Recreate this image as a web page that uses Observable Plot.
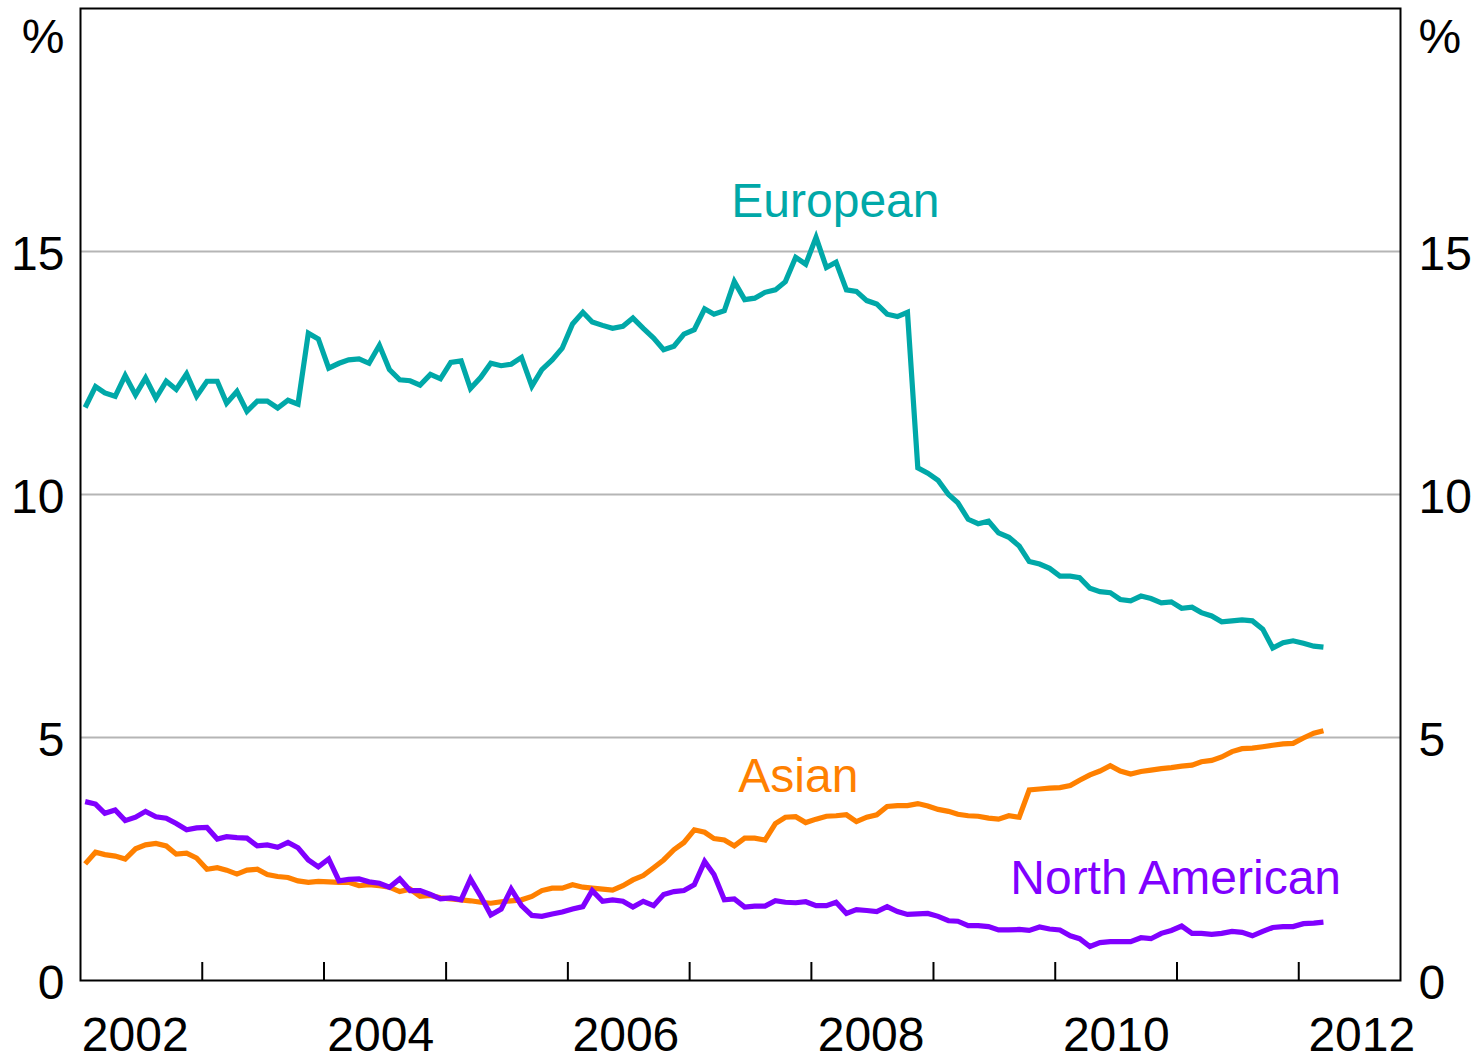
<!DOCTYPE html>
<html>
<head>
<meta charset="utf-8">
<script src="https://cdn.jsdelivr.net/npm/d3@7"></script>
<script src="https://cdn.jsdelivr.net/npm/@observablehq/plot@0.6"></script>
<style>
  html, body { margin: 0; padding: 0; background: #ffffff; }
  #chart svg { display: block; }
</style>
</head>
<body>
<div id="chart"></div>
<script>
// Monthly observations, Jan 2002 – Mar 2012 (per cent)
const seriesNames = ["Asian", "North American", "European"];
const seriesColors = ["#ff8000", "#8000ff", "#00a8a8"];

const european = [
  11.79, 12.22, 12.09, 12.02, 12.45, 12.05, 12.40, 11.98, 12.33, 12.16, 12.48, 12.02,
  12.33, 12.33, 11.88, 12.12, 11.71, 11.92, 11.92, 11.78, 11.94, 11.86, 13.32, 13.20,
  12.60, 12.70, 12.77, 12.79, 12.70, 13.07, 12.57, 12.36, 12.34, 12.25, 12.47, 12.38,
  12.72, 12.75, 12.18, 12.41, 12.70, 12.65, 12.68, 12.82, 12.23, 12.57, 12.77, 13.01,
  13.51, 13.75, 13.55, 13.48, 13.42, 13.46, 13.63, 13.42, 13.22, 12.98, 13.05, 13.30,
  13.39, 13.82, 13.71, 13.78, 14.38, 14.01, 14.04, 14.16, 14.21, 14.38, 14.88, 14.74,
  15.29, 14.67, 14.78, 14.21, 14.18, 13.99, 13.92, 13.71, 13.66, 13.75, 10.55, 10.44,
  10.29, 10.00, 9.83, 9.49, 9.40, 9.45, 9.21, 9.12, 8.94, 8.62, 8.57, 8.48,
  8.32, 8.32, 8.29, 8.07, 8.00, 7.98, 7.84, 7.81, 7.91, 7.86, 7.77, 7.79,
  7.66, 7.68, 7.57, 7.50, 7.38, 7.40, 7.42, 7.40, 7.23, 6.84, 6.95, 6.99,
  6.94, 6.88, 6.86
];

const asian = [
  2.40, 2.64, 2.59, 2.56, 2.50, 2.71, 2.79, 2.82, 2.77, 2.60, 2.62, 2.52,
  2.29, 2.32, 2.27, 2.19, 2.27, 2.29, 2.18, 2.14, 2.12, 2.05, 2.02, 2.04,
  2.03, 2.02, 2.02, 1.95, 1.97, 1.95, 1.92, 1.83, 1.88, 1.73, 1.75, 1.70,
  1.68, 1.66, 1.64, 1.61, 1.59, 1.62, 1.64, 1.66, 1.73, 1.85, 1.90, 1.90,
  1.97, 1.92, 1.90, 1.88, 1.86, 1.95, 2.07, 2.16, 2.32, 2.48, 2.69, 2.84,
  3.10, 3.05, 2.92, 2.89, 2.77, 2.93, 2.93, 2.89, 3.23, 3.36, 3.37, 3.25,
  3.32, 3.38, 3.39, 3.41, 3.27, 3.36, 3.41, 3.58, 3.60, 3.60, 3.64, 3.59,
  3.52, 3.48, 3.42, 3.39, 3.38, 3.34, 3.32, 3.39, 3.36, 3.92, 3.94, 3.96,
  3.97, 4.01, 4.12, 4.23, 4.31, 4.42, 4.31, 4.25, 4.30, 4.33, 4.36, 4.38,
  4.41, 4.43, 4.50, 4.53, 4.60, 4.71, 4.77, 4.78, 4.81, 4.84, 4.87, 4.88,
  4.99, 5.09, 5.14
];

const northAmerican = [
  3.68, 3.63, 3.44, 3.51, 3.29, 3.36, 3.48, 3.37, 3.34, 3.23, 3.10, 3.14,
  3.15, 2.91, 2.96, 2.94, 2.93, 2.77, 2.79, 2.74, 2.84, 2.73, 2.48, 2.34,
  2.50, 2.05, 2.08, 2.09, 2.03, 2.00, 1.92, 2.09, 1.85, 1.85, 1.77, 1.68,
  1.70, 1.66, 2.09, 1.73, 1.35, 1.47, 1.88, 1.54, 1.34, 1.32, 1.37, 1.41,
  1.47, 1.52, 1.85, 1.63, 1.66, 1.63, 1.51, 1.63, 1.54, 1.77, 1.83, 1.85,
  1.97, 2.45, 2.18, 1.66, 1.68, 1.51, 1.53, 1.53, 1.64, 1.61, 1.60, 1.62,
  1.54, 1.54, 1.61, 1.38, 1.46, 1.44, 1.42, 1.52, 1.42, 1.36, 1.37, 1.38,
  1.32, 1.23, 1.22, 1.13, 1.13, 1.11, 1.04, 1.04, 1.05, 1.03, 1.10, 1.06,
  1.04, 0.92, 0.86, 0.70, 0.78, 0.80, 0.80, 0.80, 0.88, 0.86, 0.97, 1.03,
  1.12, 0.97, 0.97, 0.95, 0.97, 1.01, 0.99, 0.92, 1.01, 1.09, 1.11, 1.11,
  1.17, 1.18, 1.20
];

const yTicks = [0, 5, 10, 15];
const yGrid = [5, 10, 15];
const yearTicks = [2003, 2004, 2005, 2006, 2007, 2008, 2009, 2010, 2011, 2012];
const yearLabels = [2002, 2004, 2006, 2008, 2010, 2012];

// Observation dates (mid-month)
const months = d3.utcMonth
  .range(new Date(Date.UTC(2002, 0, 1)), new Date(Date.UTC(2012, 3, 1)))
  .map(d => d3.utcDay.offset(d, 14));

const valuesBySeries = {"Asian": asian, "North American": northAmerican, "European": european};
const rows = seriesNames.flatMap(name =>
  valuesBySeries[name].map((v, i) => ({series: name, date: months[i], value: v}))
);

const tickDates = yearTicks.map(y => new Date(Date.UTC(y, 0, 1)));
// year labels sit roughly mid-year (slightly earlier on the left, later on the right)
const labelDates = yearLabels.map(y => new Date(Date.UTC(y, 5, 14 + Math.round((y - 2002) * 2.4))));
const colorOf = name => seriesColors[seriesNames.indexOf(name)];

const chart = Plot.plot({
  width: 1480,
  height: 1055,
  marginLeft: 80,
  marginRight: 80,
  marginTop: 8,
  marginBottom: 75,
  style: {
    fontFamily: "'Liberation Sans', Arial, Helvetica, sans-serif",
    fontSize: "48px",
    background: "#ffffff",
    color: "#000000",
    overflow: "visible"
  },
  x: {type: "utc", domain: [new Date(Date.UTC(2002, 0, 1)), new Date(Date.UTC(2012, 10, 1))]},
  y: {domain: [0, 20]},
  color: {domain: seriesNames, range: seriesColors},
  marks: [
    Plot.gridY(yGrid, {stroke: "#b5b5b5", strokeOpacity: 1, strokeWidth: 2}),
    Plot.line(rows, {
      x: "date", y: "value", z: "series", stroke: "series",
      strokeWidth: 5.2, strokeLinejoin: "miter", strokeMiterlimit: 3, strokeLinecap: "butt"
    }),
    Plot.frame({stroke: "#000000", strokeWidth: 2}),
    Plot.tickX(tickDates, {x: d => d, stroke: "#000000", strokeWidth: 2, insetTop: 954}),
    Plot.axisX(labelDates, {
      anchor: "bottom", tickSize: 0, tickPadding: 36, label: null,
      tickFormat: d3.utcFormat("%Y"), fill: "#000000"
    }),
    Plot.axisY(yTicks, {anchor: "left", tickSize: 0, tickPadding: 16, dy: 3, label: null, fill: "#000000"}),
    Plot.axisY(yTicks, {anchor: "right", tickSize: 0, tickPadding: 18, dy: 3, label: null, fill: "#000000"}),
    Plot.text(["%"], {text: d => d, frameAnchor: "top-left", dx: -16, dy: 44, textAnchor: "end", lineAnchor: "bottom", fill: "#000000"}),
    Plot.text(["%"], {text: d => d, frameAnchor: "top-right", dx: 18, dy: 44, textAnchor: "start", lineAnchor: "bottom", fill: "#000000"}),
    Plot.text(["European"], {
      text: d => d, x: () => new Date(Date.UTC(2008, 2, 13)), y: () => 15.70,
      textAnchor: "middle", lineAnchor: "bottom", fill: colorOf("European")
    }),
    Plot.text(["Asian"], {
      text: d => d, x: () => new Date(Date.UTC(2007, 10, 23)), y: () => 3.88,
      textAnchor: "middle", lineAnchor: "bottom", fill: colorOf("Asian")
    }),
    Plot.text(["North American"], {
      text: d => d, x: () => new Date(Date.UTC(2010, 11, 28)), y: () => 1.77,
      textAnchor: "middle", lineAnchor: "bottom", fill: colorOf("North American")
    })
  ]
});

document.getElementById("chart").appendChild(chart);
</script>
</body>
</html>
